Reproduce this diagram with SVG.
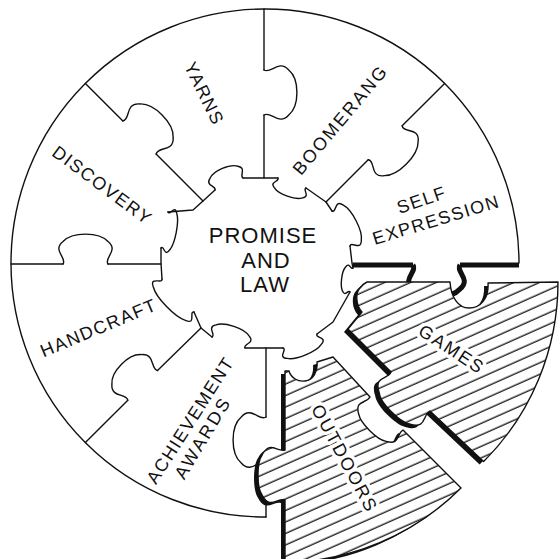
<svg xmlns="http://www.w3.org/2000/svg" width="560" height="559" viewBox="0 0 560 559">
<defs>
<style>
.ln{fill:none;stroke:#111;stroke-width:1.4;stroke-linecap:round;stroke-linejoin:round}
.thk{fill:none;stroke:#111;stroke-width:5;stroke-linejoin:round}
.lbl{font-family:"Liberation Sans",Arial,sans-serif;font-size:18px;fill:#111;text-anchor:middle;letter-spacing:1.5px}
.halo{stroke:#fff;stroke-width:7;paint-order:stroke;stroke-linejoin:round}
.hatched{fill:url(#hatch);stroke:#111;stroke-width:1.4;stroke-linejoin:round}
</style>
<path id="k" d="M0,0 C0.1,0.2 -0.25,0.45 0,0.75 C0.2,1.08 0.8,1.08 1,0.75 C1.25,0.45 0.9,0.2 1,0" vector-effect="non-scaling-stroke"/>
<pattern id="hatch" patternUnits="userSpaceOnUse" width="20" height="10.5" patternTransform="rotate(-24)">
<rect width="20" height="10.5" fill="#fff"/>
<line x1="0" y1="5" x2="20" y2="5" stroke="#111" stroke-width="1.3"/>
</pattern>
<path id="gamesShape" d="M367,282 L450,282 C451,297 458,308 469,308 C481,308 489,298 488,283 L558,282 A254,254 0 0 1 483.6,461.6 L430,411 C422.1,415 426.9,429.7 409.3,423.9 C399.5,422.1 380.05,402.6 379.2,392.8 C373.5,375.2 388.1,380 391.1,372.1 L348,329 L362,312 C356,306 355,293 360,288 C362,285 365,283 367,282 Z"/>
<path id="outdoorsShape" d="M285,371 L289,371 C291,378 298,382 305,381 C313,380 318,372 317,362 L333,357 L370,397 C366.6,403.7 354.1,399.7 358.9,414.7 C360.4,423.1 377,439.6 385.3,441.1 C400.3,446 396.3,433.5 403,430 L461,488 A254,254 0 0 1 285,562.4 L285,500 C276.9,497.5 270.15,510 262.05,495 C256.65,487.5 256.65,462.5 262.05,455 C270.15,440 276.9,452.5 285,450 Z"/>
</defs>
<rect width="560" height="559" fill="#fff"/>

<g id="connectors">
<path class="ln" d="M519,263 A254,254 0 1 0 266,517"/>
<path class="ln" d="M264,9 V70 M264,115 V178 M444.6,83.4 L402.2,125.8 M368.2,159.8 L326,202 M266,348 V417 M266,463 V517 M85.4,442.6 L127.8,400.2 M157.5,370.5 L201,328 M11,264 H63 M108,264 H161 M85.4,83.4 L122.9,120.9 M156.1,154.1 L203,201"/>
<use href="#k" class="ln" transform="translate(264,70) rotate(90) scale(45,-33)"/>
<use href="#k" class="ln" transform="translate(402.2,125.8) rotate(135) scale(48,-30)"/>
<use href="#k" class="ln" transform="translate(266,417) rotate(90) scale(46,33)"/>
<use href="#k" class="ln" transform="translate(157.5,370.5) rotate(135) scale(42,30)"/>
<use href="#k" class="ln" transform="translate(108,264) rotate(180) scale(45,30)"/>
<use href="#k" class="ln" transform="translate(122.9,120.9) rotate(45) scale(47,-32)"/>
<path class="thk" d="M353,265 H413 M460,265 H519"/>
<use href="#k" class="thk" transform="translate(413,265) scale(47,32)"/>
</g>

<g id="promise-and-law">
<path class="ln" d="M193,210 L203,201 L215,190 M243,178 L278,178 M306,188 L326,202 L332,211 M350,246 L352,263 L353,268 M350,292 L333,322 L317,334 M283,348 L245,348 M212,337 L201,328 L194,312 M162,279 L161,263 L161,248 M168,212 L193,210"/>
<use href="#k" class="ln" transform="translate(215,190) rotate(-23.2) scale(30.5,-17)"/>
<use href="#k" class="ln" transform="translate(278,178) rotate(19.65) scale(29.7,14)"/>
<use href="#k" class="ln" transform="translate(332,211) rotate(62.8) scale(39.4,-17)"/>
<use href="#k" class="ln" transform="translate(353,268) rotate(97.1) scale(24.2,10)"/>
<use href="#k" class="ln" transform="translate(317,334) rotate(157.6) scale(36.8,-15)"/>
<use href="#k" class="ln" transform="translate(245,348) rotate(-161.6) scale(34.8,17)"/>
<use href="#k" class="ln" transform="translate(194,312) rotate(-134) scale(46,-16)"/>
<use href="#k" class="ln" transform="translate(161,248) rotate(-79) scale(36.7,12)"/>
<text class="lbl" style="font-size:22px;letter-spacing:1px" x="263" y="243">PROMISE</text>
<text class="lbl" style="font-size:22px;letter-spacing:1px" x="266" y="268">AND</text>
<text class="lbl" style="font-size:22px;letter-spacing:1px" x="265" y="292">LAW</text>
</g>

<g id="yarns"><text class="lbl" transform="translate(204.5,93.5) rotate(64)" y="6.5">YARNS</text></g>
<g id="boomerang"><text class="lbl" style="letter-spacing:2px" transform="translate(340,119.5) rotate(-50)" y="6.5">BOOMERANG</text></g>
<g id="self-expression">
<text class="lbl" transform="translate(421.5,199.5) rotate(-19)" y="6.5">SELF</text>
<text class="lbl" transform="translate(436,219.5) rotate(-17)" y="6.5">EXPRESSION</text>
</g>
<g id="discovery"><text class="lbl" transform="translate(102.5,185) rotate(36.6)" y="6.5">DISCOVERY</text></g>
<g id="handcraft"><text class="lbl" transform="translate(98.5,327.5) rotate(-22.7)" y="6.5">HANDCRAFT</text></g>
<g id="achievement-awards">
<text class="lbl" transform="translate(190,420) rotate(-57.5)" y="6.5">ACHIEVEMENT</text>
<text class="lbl" style="letter-spacing:2.5px" transform="translate(202.5,437.5) rotate(-59)" y="6.5">AWARDS</text>
</g>

<g id="outdoors">
<use href="#outdoorsShape" fill="#111" transform="translate(-4,3)"/>
<use href="#outdoorsShape" class="hatched"/>
<text class="lbl halo" style="letter-spacing:2px" transform="translate(345,458.5) rotate(61.7)" y="6.5">OUTDOORS</text>
</g>

<g id="games">
<use href="#gamesShape" fill="#111" transform="translate(-4,3)"/>
<use href="#gamesShape" class="hatched"/>
<text class="lbl halo" style="letter-spacing:2px" transform="translate(452,349) rotate(33.2)" y="6.5">GAMES</text>
</g>
</svg>
